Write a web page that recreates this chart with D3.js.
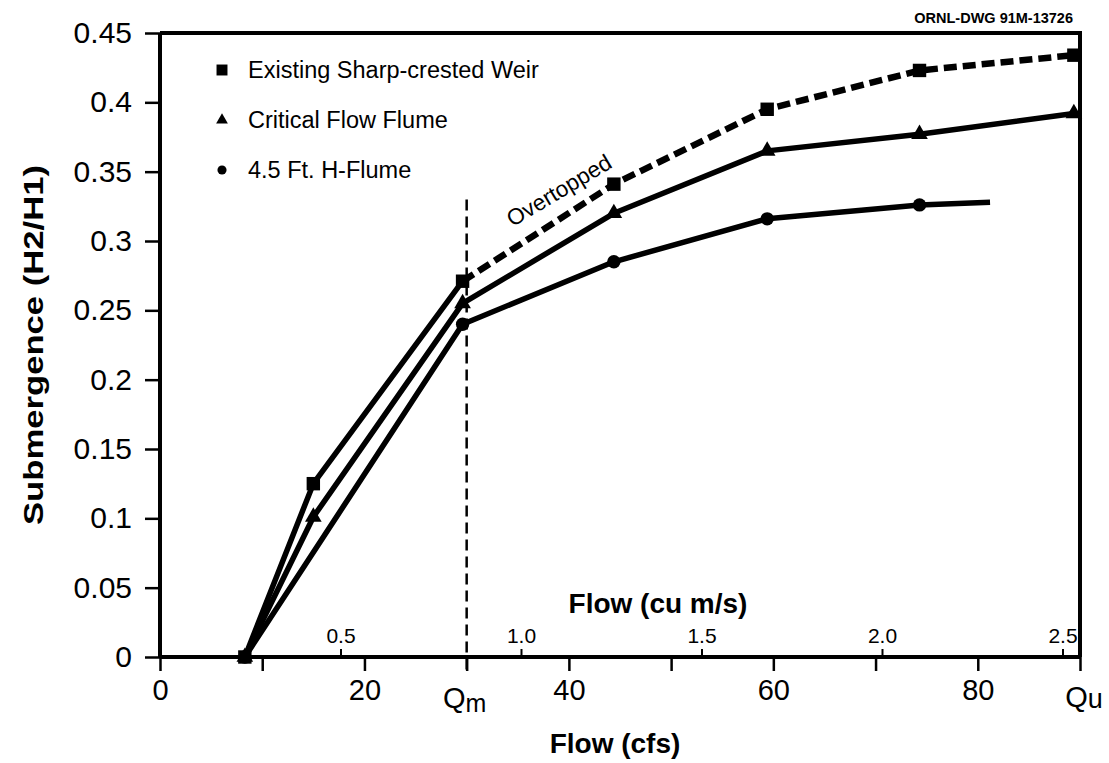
<!DOCTYPE html>
<html>
<head>
<meta charset="utf-8">
<script src="https://cdn.jsdelivr.net/npm/d3@7"></script>
<style>
  html, body { margin: 0; padding: 0; background: #fff; }
  svg { display: block; font-family: "Liberation Sans", Arial, Helvetica, sans-serif; }
</style>
</head>
<body>
<svg id="chart" width="1109" height="763"></svg>
<script>
// ---- data ----
const flowCfs      = [8.3, 15, 29.6, 44.4, 59.4, 74.3, 89.4];
const weirValues   = [0, 0.125, 0.271, 0.341, 0.395, 0.423, 0.434];
const weirSolidEnd = 2; // index where "Overtopped" (dashed) part starts
const criticalValues = [0, 0.101, 0.255, 0.320, 0.365, 0.377, 0.392];
const hflumeCfs    = [8.3, 29.6, 44.4, 59.4, 74.3];
const hflumeValues = [0, 0.240, 0.285, 0.316, 0.326];
const hflumeTail   = [81.2, 0.328]; // unmarked end of the H-flume line
const yTicks = [0, 0.05, 0.1, 0.15, 0.2, 0.25, 0.3, 0.35, 0.4, 0.45];
const yTickLabels = ["0", "0.05", "0.1", "0.15", "0.2", "0.25", "0.3", "0.35", "0.4", "0.45"];
const xTicks = [0, 10, 20, 30, 40, 50, 60, 70, 80, 90];
const xTickLabels = ["0", "", "20", "", "40", "", "60", "", "80", ""];
const qm = 30, qu = 90;
const cmsTicks = [0.5, 1.0, 1.5, 2.0, 2.5];
const cmsTickLabels = ["0.5", "1.0", "1.5", "2.0", "2.5"];
const cfsPerCms = 35.315;
const legendLabels = ["Existing Sharp-crested Weir", "Critical Flow Flume", "4.5 Ft. H-Flume"];

// ---- layout ----
const svg = d3.select("#chart");
const mLeft = 160, mRight = 1080, mTop = 33, mBottom = 657;
const x = d3.scaleLinear().domain([0, 90]).range([mLeft, mRight]);
const y = d3.scaleLinear().domain([0, 0.45]).range([mBottom, mTop]);
const cms = d3.scaleLinear().domain([0, 90 / cfsPerCms]).range([mLeft, mRight]);
const FONT = "Liberation Sans, Arial, sans-serif";

// frame (top and right)
svg.append("path")
  .attr("d", `M${mLeft},${mTop}H${mRight}V${mBottom}`)
  .attr("fill", "none").attr("stroke", "#000").attr("stroke-width", 4);

// y axis
const yAxis = svg.append("g").attr("transform", `translate(${mLeft},0)`)
  .call(d3.axisLeft(y).tickValues(yTicks).tickSize(15).tickPadding(13)
    .tickFormat((d, i) => yTickLabels[i]));
yAxis.select(".domain").attr("stroke-width", 4).attr("d", `M0,${mTop}V${mBottom}`);
yAxis.selectAll(".tick line").attr("stroke-width", 2.5);
yAxis.selectAll(".tick text").attr("font-size", 30).attr("font-family", FONT).attr("fill", "#000");

// x axis (cfs)
const xAxis = svg.append("g").attr("transform", `translate(0,${mBottom})`)
  .call(d3.axisBottom(x).tickValues(xTicks).tickSize(14).tickPadding(8)
    .tickFormat((d, i) => xTickLabels[i]));
xAxis.select(".domain").attr("stroke-width", 4).attr("d", `M${mLeft},0H${mRight}`);
xAxis.selectAll(".tick line").attr("stroke-width", 2.5);
xAxis.selectAll(".tick text").attr("font-size", 29).attr("font-family", FONT).attr("fill", "#000");

// Qm and Qu labels
const qmText = svg.append("text").attr("x", x(qm) - 2).attr("y", 708)
  .attr("text-anchor", "middle").attr("font-size", 29);
qmText.append("tspan").text("Q");
qmText.append("tspan").attr("font-size", 25).attr("dy", 4).text("m");
const quText = svg.append("text").attr("x", x(qu) + 4).attr("y", 707)
  .attr("text-anchor", "middle").attr("font-size", 29);
quText.append("tspan").text("Q");
quText.append("tspan").attr("font-size", 27).attr("dy", 1).text("u");

// secondary axis (cu m/s), ticks above the base line
const cAxis = svg.append("g").attr("transform", `translate(0,${mBottom})`)
  .call(d3.axisTop(cms).tickValues(cmsTicks).tickSize(8).tickPadding(6)
    .tickFormat((d, i) => cmsTickLabels[i]));
cAxis.select(".domain").remove();
cAxis.selectAll(".tick line").attr("stroke-width", 2);
cAxis.selectAll(".tick text").attr("font-size", 21).attr("font-family", FONT).attr("fill", "#000");

svg.append("text").attr("x", 658).attr("y", 613).attr("text-anchor", "middle")
  .attr("font-size", 28).attr("font-weight", "bold").text("Flow (cu m/s)");

// axis titles
svg.append("text").attr("x", 615).attr("y", 753).attr("text-anchor", "middle")
  .attr("font-size", 28).attr("font-weight", "bold").text("Flow (cfs)");
svg.append("text").attr("transform", `translate(43,345) rotate(-90)`)
  .attr("text-anchor", "middle").attr("font-size", 28).attr("font-weight", "bold")
  .attr("textLength", 360).attr("lengthAdjust", "spacingAndGlyphs")
  .text("Submergence (H2/H1)");

svg.append("text").attr("x", 1073).attr("y", 23).attr("text-anchor", "end")
  .attr("font-size", 14.5).attr("font-weight", "bold").text("ORNL-DWG 91M-13726");

// Qm vertical dashed line
svg.append("line").attr("x1", x(qm)).attr("x2", x(qm))
  .attr("y1", y(0.33)).attr("y2", mBottom + 15)
  .attr("stroke", "#000").attr("stroke-width", 2.5).attr("stroke-dasharray", "11,6");

// ---- series ----
const line = d3.line().x(d => x(d[0])).y(d => y(d[1]));
const weirPts = flowCfs.map((f, i) => [f, weirValues[i]]);
const critPts = flowCfs.map((f, i) => [f, criticalValues[i]]);
const hPts = hflumeCfs.map((f, i) => [f, hflumeValues[i]]);

svg.append("path").attr("d", line(hPts.concat([hflumeTail])))
  .attr("fill", "none").attr("stroke", "#000").attr("stroke-width", 5.5).attr("stroke-linejoin", "round");
svg.append("path").attr("d", line(critPts))
  .attr("fill", "none").attr("stroke", "#000").attr("stroke-width", 5.5).attr("stroke-linejoin", "round");
svg.append("path").attr("d", line(weirPts.slice(0, weirSolidEnd + 1)))
  .attr("fill", "none").attr("stroke", "#000").attr("stroke-width", 5.5).attr("stroke-linejoin", "round");
svg.append("path").attr("d", line(weirPts.slice(weirSolidEnd)))
  .attr("fill", "none").attr("stroke", "#000").attr("stroke-width", 6.5)
  .attr("stroke-dasharray", "13,6");

const sym = {
  square: d3.symbol().type(d3.symbolSquare).size(180),
  triangle: d3.symbol().type(d3.symbolTriangle).size(120),
  circle: d3.symbol().type(d3.symbolCircle).size(140)
};
function markers(pts, s) {
  svg.append("g").selectAll("path").data(pts).join("path")
    .attr("transform", d => `translate(${x(d[0])},${y(d[1])})`)
    .attr("d", s).attr("fill", "#000");
}
markers(hPts, sym.circle);
markers(critPts, sym.triangle);
markers(weirPts, sym.square);

// "Overtopped" label
svg.append("text").attr("transform", "translate(563,197) rotate(-31)")
  .attr("text-anchor", "middle").attr("font-size", 22.5).text("Overtopped");

// ---- legend ----
const legendSyms = [
  d3.symbol().type(d3.symbolSquare).size(120),
  d3.symbol().type(d3.symbolTriangle).size(60),
  d3.symbol().type(d3.symbolCircle).size(65)
];
const lg = svg.append("g").selectAll("g").data(legendLabels).join("g")
  .attr("transform", (d, i) => `translate(222,${70 + i * 50})`);
lg.append("path").attr("d", (d, i) => legendSyms[i]()).attr("fill", "#000");
lg.append("text").attr("x", 26).attr("y", 8).attr("font-size", 23.5).text(d => d);
</script>
</body>
</html>
